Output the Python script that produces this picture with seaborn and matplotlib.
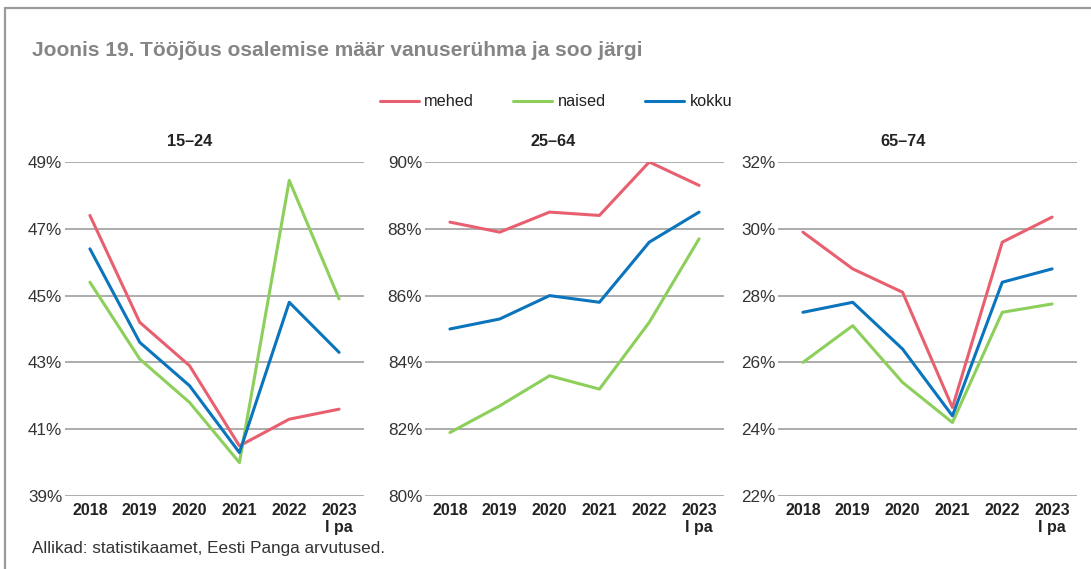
import pandas as pd
import matplotlib
matplotlib.use("Agg")
import matplotlib.pyplot as plt
from matplotlib.lines import Line2D
import seaborn as sns

# andmed
aastad = ["2018", "2019", "2020", "2021", "2022", "2023\nI pa"]
seeriad = ["mehed", "naised", "kokku"]
varvid = ["#e8606f", "#8ccf5a", "#0a74bd"]

mehed_15_24 = [47.4, 44.2, 42.9, 40.5, 41.3, 41.6]
naised_15_24 = [45.4, 43.1, 41.8, 40.0, 48.45, 44.9]
kokku_15_24 = [46.4, 43.6, 42.3, 40.3, 44.8, 43.3]

mehed_25_64 = [88.2, 87.9, 88.5, 88.4, 90.0, 89.3]
naised_25_64 = [81.9, 82.7, 83.6, 83.2, 85.2, 87.7]
kokku_25_64 = [85.0, 85.3, 86.0, 85.8, 87.6, 88.5]

mehed_65_74 = [29.9, 28.8, 28.1, 24.65, 29.6, 30.35]
naised_65_74 = [26.0, 27.1, 25.4, 24.2, 27.5, 27.75]
kokku_65_74 = [27.5, 27.8, 26.4, 24.4, 28.4, 28.8]

vanuserühmad = ["15\u201324", "25\u201364", "65\u201374"]
y_piirid = [(39, 49), (80, 90), (22, 32)]

paneelid = {
    "15\u201324": [mehed_15_24, naised_15_24, kokku_15_24],
    "25\u201364": [mehed_25_64, naised_25_64, kokku_25_64],
    "65\u201374": [mehed_65_74, naised_65_74, kokku_65_74],
}

# pikk tabel
read = []
for grupp, andmed in paneelid.items():
    for nimi, vaartused in zip(seeriad, andmed):
        for aasta, v in zip(aastad, vaartused):
            read.append({"grupp": grupp, "seeria": nimi, "aasta": aasta, "vaartus": v})
df = pd.DataFrame(read)

sns.set_style("white")
plt.rcParams["font.family"] = ["Liberation Sans", "DejaVu Sans"]

fig = plt.figure(figsize=(10.91, 5.69), dpi=100)
W, H = 1091, 569

vasak = [65, 425, 778]
laius = 299
ylemine, alumine = 162, 496
pealkirja_x = [190, 553, 903]

for i, grupp in enumerate(vanuserühmad):
    ax = fig.add_axes([vasak[i] / W, 1 - alumine / H, laius / W, (alumine - ylemine) / H])
    sub = df[df["grupp"] == grupp]
    sns.lineplot(
        data=sub, x="aasta", y="vaartus", hue="seeria",
        hue_order=seeriad, palette=varvid, linewidth=2.2,
        legend=False, ax=ax, sort=False,
    )
    lo, hi = y_piirid[i]
    ax.set_ylim(lo, hi)
    ax.set_xlim(-0.5, len(aastad) - 0.5)
    ax.set_yticks(range(lo, hi + 1, 2))
    ax.set_yticklabels([f"{t}%" for t in range(lo, hi + 1, 2)], fontsize=12.3, color="#333333")
    ax.set_xticks(range(len(aastad)))
    ax.set_xticklabels(aastad, fontsize=11.5, fontweight="bold", color="#222222", linespacing=1.2)
    ax.tick_params(axis="both", length=0)
    ax.tick_params(axis="y", pad=2)
    ax.tick_params(axis="x", pad=5)
    ax.set_xlabel("")
    ax.set_ylabel("")
    for s in ax.spines.values():
        s.set_visible(False)
    ax.yaxis.grid(True, color="#a6a6a6", linewidth=1.3)
    ax.set_axisbelow(True)
    fig.text(pealkirja_x[i] / W, 1 - 142 / H, grupp, fontsize=11.7, fontweight="bold",
             color="#222222", ha="center", va="center")

# pealkiri ja allikas
fig.text(32 / W, 1 - 50 / H, "Joonis 19. Tööjõus osalemise määr vanuserühma ja soo järgi",
         fontsize=15, fontweight="bold", color="#858585", va="center", ha="left")
fig.text(32 / W, 1 - 549 / H, "Allikad: statistikaamet, Eesti Panga arvutused.",
         fontsize=12.3, color="#333333", va="center", ha="left")

# legend
kasitsejad = [Line2D([0], [0], color=c, lw=2.2) for c in varvid]
fig.legend(kasitsejad, seeriad, loc="center", bbox_to_anchor=(556 / W, 1 - 102 / H),
           ncol=3, frameon=False, fontsize=11.7, handlelength=2.4, handletextpad=0.35,
           columnspacing=2.4, labelcolor="#222222")

# raam
fig.add_artist(Line2D([5 / W, 1], [1 - 8 / H, 1 - 8 / H], color="#9a9a9a", lw=1.6))
fig.add_artist(Line2D([5 / W, 5 / W], [0, 1 - 8 / H], color="#9a9a9a", lw=1.6))

fig.savefig("out.png", dpi=100)
